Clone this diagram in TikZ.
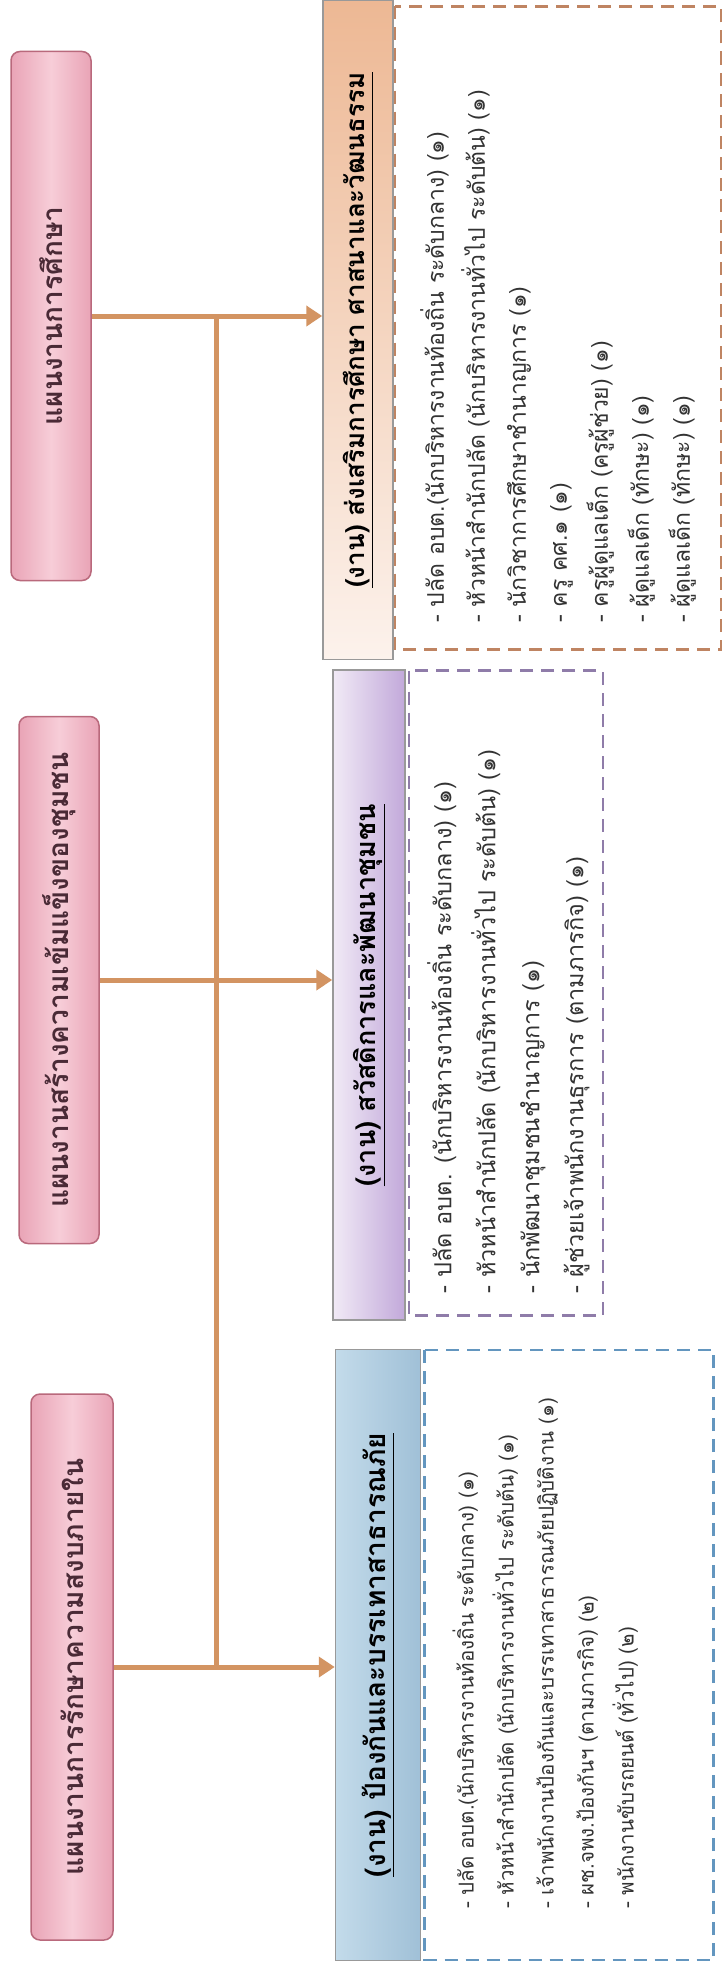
\documentclass[tikz,border=0pt]{standalone}
\usepackage{fontspec}
\newfontfamily\thai[Script=Thai]{Loma}
\usepackage{xcolor}
\usetikzlibrary{arrows.meta}
\definecolor{linebrown}{HTML}{D39462}
\definecolor{planlight}{HTML}{F7CDD8}
\definecolor{plandark}{HTML}{E9A4B6}
\definecolor{planedge}{HTML}{B9697C}
\definecolor{plantext}{HTML}{4A2A36}
\definecolor{bluelight}{HTML}{C3DBEA}
\definecolor{bluedark}{HTML}{A0C0D7}
\definecolor{bluedash}{HTML}{6396BF}
\definecolor{purplelight}{HTML}{F1EAF6}
\definecolor{purpledark}{HTML}{C2A9DA}
\definecolor{purpledash}{HTML}{8F7CA9}
\definecolor{orangelight}{HTML}{FCF2EC}
\definecolor{orangedark}{HTML}{EDB894}
\definecolor{orangedash}{HTML}{BF8462}
\definecolor{stafftext}{HTML}{333333}

\begin{document}
\begin{tikzpicture}[x=1pt,y=-1pt,
  plan/.style={rotate=90,draw=planedge,line width=1.5pt,rounded corners=9pt,
    left color=plandark,right color=plandark,middle color=planlight,
    text=plantext,font=\thai\bfseries\fontsize{28}{32}\selectfont},
  job/.style={rotate=90,draw=gray!80,line width=1.5pt,inner sep=0pt,
    text=black,font=\thai\bfseries\fontsize{#1}{30}\selectfont},
  staffbox/.style={rotate=90,draw=#1,line width=2.2pt,dash pattern=on 13pt off 8pt},
  staff/.style 2 args={rotate=90,anchor=north west,align=left,inner sep=0pt,
    text=stafftext,font=\thai\fontsize{#1}{#2}\selectfont},
  link/.style={draw=linebrown,line width=5pt},
  arr/.style={link,-{Triangle[length=16pt,width=20pt]}}]
\useasboundingbox[fill=white] (0,0) rectangle (725,1975);

\node[plan,minimum width=529,minimum height=80] (p3) at (51,316) {แผนงานการศึกษา};
\node[plan,minimum width=527,minimum height=80] (p2) at (59,980) {แผนงานสร้างความเข้มแข็งของชุมชน};
\node[plan,minimum width=546,minimum height=82] (p1) at (72,1667) {แผนงานการรักษาความสงบภายใน};

\node[job=26,top color=orangedark,bottom color=orangelight,minimum width=659,minimum height=70] (h3) at (358,330)
  {\underline{(งาน) ส่งเสริมการศึกษา ศาสนาและวัฒนธรรม}};
\node[job=27,left color=purplelight,right color=purpledark,minimum width=650,minimum height=72] (h2) at (369,995)
  {\underline{(งาน) สวัสดิการและพัฒนาชุมชน}};
\node[job=28,left color=bluelight,right color=bluedark,minimum width=611,minimum height=85] (h1) at (378,1655)
  {\underline{(งาน) ป้องกันและบรรเทาสาธารณภัย}};

\node[staffbox=orangedash,minimum width=643,minimum height=326] (d3) at (558,328) {};
\node[staffbox=purpledash,minimum width=645,minimum height=194] (d2) at (506,993) {};
\node[staffbox=bluedash,minimum width=610,minimum height=289] (d1) at (569,1655) {};

\node[staff={23}{41}] (s3) at ([shift={(26,-28)}]d3.north west) {%
  - ปลัด อบต.(นักบริหารงานท้องถิ่น ระดับกลาง) (๑)\\
  - หัวหน้าสำนักปลัด (นักบริหารงานทั่วไป ระดับต้น) (๑)\\
  - นักวิชาการศึกษาชำนาญการ (๑)\\
  - ครู คศ.๑ (๑)\\
  - ครูผู้ดูแลเด็ก (ครูผู้ช่วย) (๑)\\
  - ผู้ดูแลเด็ก (ทักษะ) (๑)\\
  - ผู้ดูแลเด็ก (ทักษะ) (๑)};
\node[staff={23.5}{44}] (s2) at ([shift={(19,-23)}]d2.north west) {%
  - ปลัด อบต. (นักบริหารงานท้องถิ่น ระดับกลาง) (๑)\\
  - หัวหน้าสำนักปลัด (นักบริหารงานทั่วไป ระดับต้น) (๑)\\
  - นักพัฒนาชุมชนชำนาญการ (๑)\\
  - ผู้ช่วยเจ้าพนักงานธุรการ (ตามภารกิจ) (๑)};
\node[staff={20.5}{40}] (s1) at ([shift={(29,-52)}]d1.north west) {%
  - ปลัด อบต.(นักบริหารงานท้องถิ่น ระดับกลาง) (๑)\\
  - หัวหน้าสำนักปลัด (นักบริหารงานทั่วไป ระดับต้น) (๑)\\
  - เจ้าพนักงานป้องกันและบรรเทาสาธารณภัยปฏิบัติงาน (๑)\\
  - ผช.จพง.ป้องกันฯ (ตามภารกิจ) (๒)\\
  - พนักงานขับรถยนต์ (ทั่วไป) (๒)};

\path (p3.south) -- (p3.south -| h3.north) coordinate[pos=.54] (j3);
\draw[link] (j3) -- (j3 |- p1.south);
\draw[arr] (p3.south) -- (p3.south -| h3.north);
\draw[arr] (p2.south) -- (p2.south -| h2.north);
\draw[arr] (p1.south) -- (p1.south -| h1.north);
\end{tikzpicture}
\end{document}
